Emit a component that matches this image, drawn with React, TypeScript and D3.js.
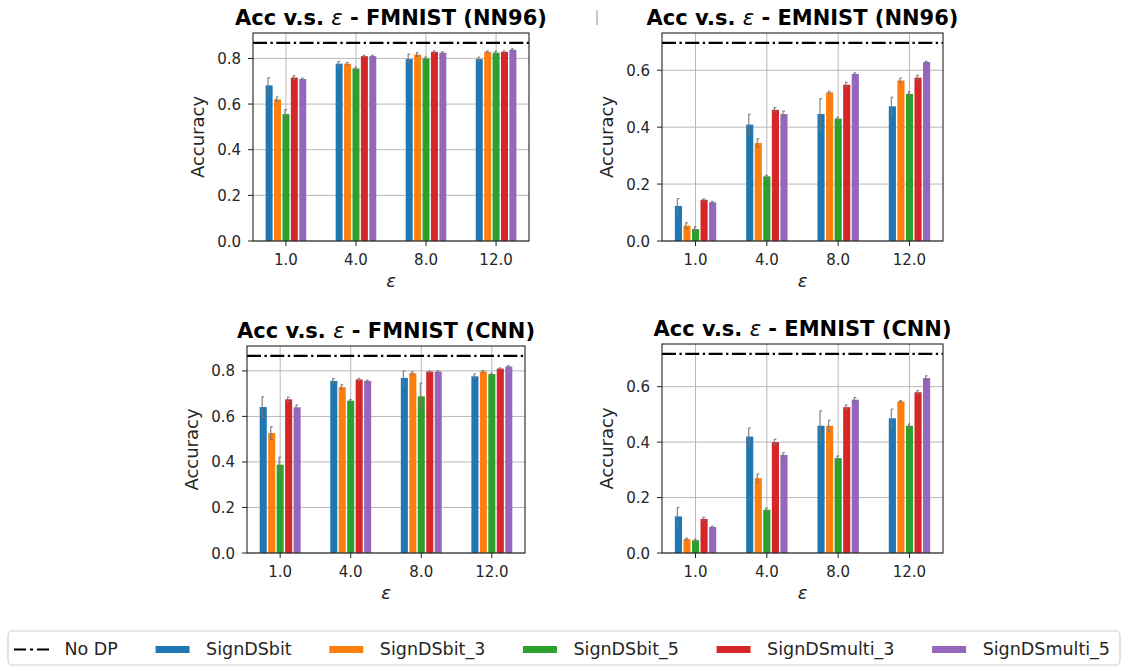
import React from "react";
import * as d3 from "d3";

// Privacy budgets on the x axis
const categories = ["1.0", "4.0", "8.0", "12.0"];

const seriesNames = ["SignDSbit", "SignDSbit_3", "SignDSbit_5", "SignDSmulti_3", "SignDSmulti_5"];
const seriesColors = ["#1f77b4", "#ff7f0e", "#2ca02c", "#d62728", "#9467bd"];

// Mean accuracy per series (rows) and epsilon (columns)
const fmnistNN96 = [
  [0.682, 0.777, 0.797, 0.797],
  [0.621, 0.777, 0.817, 0.829],
  [0.556, 0.756, 0.8, 0.825],
  [0.716, 0.81, 0.829, 0.829],
  [0.71, 0.81, 0.825, 0.838],
];
const fmnistNN96Err = [
  [0.033, 0.01, 0.022, 0.008],
  [0.01, 0.006, 0.008, 0.004],
  [0.02, 0.006, 0.006, 0.006],
  [0.008, 0.004, 0.004, 0.004],
  [0.004, 0.004, 0.004, 0.004],
];

const emnistNN96 = [
  [0.123, 0.409, 0.446, 0.473],
  [0.054, 0.344, 0.522, 0.564],
  [0.042, 0.227, 0.43, 0.517],
  [0.145, 0.461, 0.549, 0.574],
  [0.136, 0.446, 0.587, 0.629],
];
const emnistNN96Err = [
  [0.026, 0.036, 0.054, 0.032],
  [0.01, 0.015, 0.004, 0.008],
  [0.008, 0.004, 0.005, 0.008],
  [0.003, 0.008, 0.008, 0.008],
  [0.003, 0.01, 0.004, 0.003],
];

const fmnistCNN = [
  [0.641, 0.756, 0.769, 0.776],
  [0.527, 0.729, 0.79, 0.797],
  [0.388, 0.669, 0.688, 0.786],
  [0.675, 0.762, 0.797, 0.81],
  [0.64, 0.756, 0.797, 0.819],
];
const fmnistCNNErr = [
  [0.045, 0.01, 0.03, 0.01],
  [0.028, 0.01, 0.006, 0.004],
  [0.033, 0.005, 0.058, 0.004],
  [0.01, 0.004, 0.003, 0.003],
  [0.01, 0.004, 0.004, 0.004],
];

const emnistCNN = [
  [0.132, 0.42, 0.459, 0.486],
  [0.05, 0.27, 0.459, 0.547],
  [0.046, 0.156, 0.342, 0.459],
  [0.123, 0.4, 0.526, 0.58],
  [0.094, 0.354, 0.553, 0.631],
];
const emnistCNNErr = [
  [0.032, 0.031, 0.054, 0.033],
  [0.004, 0.015, 0.02, 0.003],
  [0.004, 0.006, 0.008, 0.006],
  [0.006, 0.01, 0.008, 0.006],
  [0.003, 0.008, 0.008, 0.008],
];

// Non-private baselines
const noDPValues = [0.868, 0.696, 0.866, 0.718];

const yTicksFmnist = [0, 0.2, 0.4, 0.6, 0.8];
const yTicksEmnist = [0, 0.2, 0.4, 0.6];

const panels = [
  { dataset: "FMNIST", model: "NN96", values: fmnistNN96, errors: fmnistNN96Err, noDP: noDPValues[0], yTicks: yTicksFmnist, frame: { left: 253, right: 529, top: 33, bottom: 241 } },
  { dataset: "EMNIST", model: "NN96", values: emnistNN96, errors: emnistNN96Err, noDP: noDPValues[1], yTicks: yTicksEmnist, frame: { left: 662, right: 943, top: 33, bottom: 241 } },
  { dataset: "FMNIST", model: "CNN", values: fmnistCNN, errors: fmnistCNNErr, noDP: noDPValues[2], yTicks: yTicksFmnist, frame: { left: 247, right: 525, top: 346, bottom: 553 } },
  { dataset: "EMNIST", model: "CNN", values: emnistCNN, errors: emnistCNNErr, noDP: noDPValues[3], yTicks: yTicksEmnist, frame: { left: 662, right: 943, top: 344, bottom: 553 } },
];

const FONT = "DejaVu Sans, sans-serif";
const TEXT = "#262626";
const BAR_STEP = 0.12;
const BAR_WIDTH = 0.1;

function Panel({ p }: { p: (typeof panels)[number] }) {
  const { left, right, top, bottom } = p.frame;
  const x = d3.scaleLinear().domain([-0.47, categories.length - 1 + 0.47]).range([left, right]);
  const y = d3.scaleLinear().domain([0, p.noDP * 1.05]).range([bottom, top]);
  const cx = (left + right) / 2;
  const cy = (top + bottom) / 2;
  const pxPerUnit = x(1) - x(0);

  return (
    <g>
      {/* grid */}
      {categories.map((_, i) => (
        <line key={"gx" + i} x1={x(i)} x2={x(i)} y1={top} y2={bottom} stroke="#b8b8b8" strokeWidth={1} />
      ))}
      {p.yTicks.map((t) => (
        <line key={"gy" + t} x1={left} x2={right} y1={y(t)} y2={y(t)} stroke="#b8b8b8" strokeWidth={1} />
      ))}

      {/* bars */}
      {p.values.map((row, s) =>
        row.map((v, i) => {
          const c = i + (s - 2) * BAR_STEP;
          const x0 = x(c - BAR_WIDTH / 2);
          return (
            <rect key={`b${s}-${i}`} x={x0} y={y(v)} width={BAR_WIDTH * pxPerUnit} height={y(0) - y(v)} fill={seriesColors[s]} />
          );
        })
      )}

      {/* error bars */}
      {p.values.map((row, s) =>
        row.map((v, i) => {
          const xc = x(i + (s - 2) * BAR_STEP) - 1;
          const e = p.errors[s][i];
          return (
            <g key={`e${s}-${i}`} stroke="#777" strokeWidth={1.2} opacity={0.9}>
              <line x1={xc} x2={xc} y1={y(v - e)} y2={y(v + e)} />
              <line x1={xc - 0.5} x2={xc + 2} y1={y(v + e)} y2={y(v + e)} />
              <line x1={xc - 0.5} x2={xc + 2} y1={y(v - e)} y2={y(v - e)} />
            </g>
          );
        })
      )}

      {/* no-DP baseline */}
      <line x1={left} x2={right} y1={y(p.noDP)} y2={y(p.noDP)} stroke="#000" strokeWidth={2.3} strokeDasharray="14 3.5 2.3 3.5" />

      {/* frame */}
      <rect x={left} y={top} width={right - left} height={bottom - top} fill="none" stroke="#222" strokeWidth={1.1} />

      {/* y axis */}
      {p.yTicks.map((t) => (
        <g key={"yt" + t}>
          <line x1={left - 5} x2={left} y1={y(t)} y2={y(t)} stroke="#222" strokeWidth={1} />
          <text x={left - 12} y={y(t) + 5.5} textAnchor="end" fontSize={15} fontFamily={FONT} fill={TEXT}>
            {t.toFixed(1)}
          </text>
        </g>
      ))}

      {/* x axis */}
      {categories.map((c, i) => (
        <g key={"xt" + i}>
          <line x1={x(i)} x2={x(i)} y1={bottom} y2={bottom + 5} stroke="#222" strokeWidth={1} />
          <text x={x(i)} y={bottom + 24} textAnchor="middle" fontSize={15} fontFamily={FONT} fill={TEXT}>
            {c}
          </text>
        </g>
      ))}

      <text x={cx} y={bottom + 46} textAnchor="middle" fontSize={18} fontStyle="italic" fontFamily={FONT} fill={TEXT}>
        ε
      </text>
      <text transform={`translate(${left - 49},${cy}) rotate(-90)`} textAnchor="middle" fontSize={18} fontFamily={FONT} fill={TEXT}>
        Accuracy
      </text>

      <text x={cx} y={top - 8.5} textAnchor="middle" fontSize={21} fontWeight="bold" fontFamily={FONT} fill="#000">
        Acc v.s. <tspan fontStyle="italic" fontWeight="normal">ε</tspan> - {p.dataset} ({p.model})
      </text>
    </g>
  );
}

// Legend text widths are estimated from DejaVu Sans advance widths
const legendLabels = ["No DP", ...seriesNames];

function Legend() {
  const ref = React.useRef<SVGGElement>(null);
  React.useEffect(() => {
    const g = d3.select(ref.current);
    g.selectAll("*").remove();
    const boxLeft = 8, boxRight = 1120, boxTop = 631, boxBottom = 665;
    g.append("rect")
      .attr("x", boxLeft).attr("y", boxTop)
      .attr("width", boxRight - boxLeft).attr("height", boxBottom - boxTop)
      .attr("rx", 4).attr("fill", "#fff").attr("stroke", "#cfcfcf").attr("stroke-width", 1.2);

    const texts = legendLabels.map((l) =>
      g.append("text").attr("font-family", FONT).attr("font-size", 17.5).attr("fill", TEXT).attr("y", 655).text(l)
    );
    const widths = texts.map((t) => (t.node() as SVGTextElement).getComputedTextLength());
    const handleTextGap = 50.5;
    const startX = 14, endX = 1110;
    const used = d3.sum(widths) + handleTextGap * legendLabels.length;
    const gap = (endX - startX - used) / (legendLabels.length - 1);
    let xPos = startX;
    legendLabels.forEach((_, k) => {
      if (k === 0) {
        g.append("line").attr("x1", xPos).attr("x2", xPos + 36).attr("y1", 649.5).attr("y2", 649.5)
          .attr("stroke", "#000").attr("stroke-width", 2.2).attr("stroke-dasharray", "12 4 3 4");
      } else {
        g.append("rect").attr("x", xPos).attr("y", 646).attr("width", 34).attr("height", 7)
          .attr("fill", seriesColors[k - 1]);
      }
      texts[k].attr("x", xPos + handleTextGap);
      xPos += handleTextGap + widths[k] + gap;
    });
  }, []);
  return <g ref={ref} />;
}

export default function App() {
  return (
    <svg width={1126} height={666} style={{ position: "absolute", left: 0, top: 0, background: "#fff" }}>
      <rect x={0} y={0} width={1126} height={666} fill="#fff" />
      <line x1={597} x2={597} y1={10} y2={25} stroke="#c8c8c8" strokeWidth={2} />
      {panels.map((p, k) => (
        <Panel key={k} p={p} />
      ))}
      <Legend />
    </svg>
  );
}
